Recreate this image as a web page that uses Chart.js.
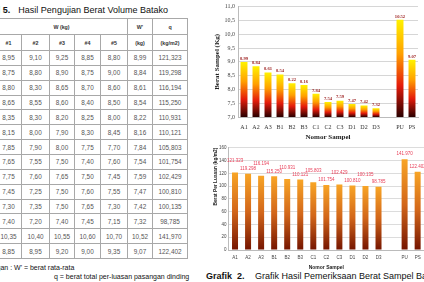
<!DOCTYPE html>
<html>
<head>
<meta charset="utf-8">
<script src="https://cdn.jsdelivr.net/npm/chart.js@4.4.1/dist/chart.umd.min.js"></script>
<style>
  html, body { margin: 0; padding: 0; background: #fff; }
  body { width: 424px; height: 282px; position: relative; overflow: hidden; font-family: "Liberation Sans", Arial, sans-serif; color: #111; }
  #judul { position: absolute; left: -22.5px; top: 5px; font-size: 9px; white-space: nowrap; }
  #judul span { margin-left: 8px; }
  #tabel { position: absolute; left: -33px; top: 18px; border-collapse: collapse; table-layout: fixed; width: 220px; font-size: 6.4px; color: #555; }
  #tabel th, #tabel td { border: 1px solid #a8a8a8; padding: 0; text-align: center; white-space: nowrap; overflow: hidden; }
  #tabel thead tr { height: 16px; }
  #tabel thead th { font-size: 5.3px; font-weight: bold; color: #333; }
  #tabel tbody tr { height: 14.86px; }
  .ket { position: absolute; font-size: 7px; white-space: nowrap; }
  .kotak { position: absolute; }
  #caption1 { position: absolute; left: 206px; top: 271px; font-size: 9px; font-weight: bold; white-space: nowrap; }
  #caption2 { position: absolute; left: 255px; top: 271px; font-size: 9px; white-space: nowrap; }
</style>
</head>
<body>
<div id="judul"><b>Tabel 5.</b><span>Hasil Pengujian Berat Volume Batako</span></div>
<table id="tabel">
  <colgroup>
    <col style="width:28px"><col style="width:26px"><col style="width:28px"><col style="width:25px">
    <col style="width:26px"><col style="width:27px"><col style="width:25px"><col style="width:35px">
  </colgroup>
  <thead>
    <tr><th rowspan="2">Sampel</th><th colspan="5">W (kg)</th><th>W'</th><th>q</th></tr>
    <tr><th>#1</th><th>#2</th><th>#3</th><th>#4</th><th>#5</th><th>(kg)</th><th>(kg/m2)</th></tr>
  </thead>
  <tbody id="isi"></tbody>
</table>
<div class="ket" style="left:-28px; top:264px;">Keterangan : W' = berat rata-rata</div>
<div class="ket" style="left:54px; top:273px;">q = berat total per-luasan pasangan dinding</div>

<div class="kotak" style="left:212px; top:0; width:212px; height:142px;"><canvas id="grafik1"></canvas></div>
<div class="kotak" style="left:212px; top:143px; width:214px; height:128px;"><canvas id="grafik2"></canvas></div>
<div id="caption1">Grafik&nbsp; 2.</div>
<div id="caption2">Grafik Hasil Pemeriksaan Berat Sampel Batako</div>

<script>
// data dari tabel
const sampel = ['A1', 'A2', 'A3', 'B1', 'B2', 'B3', 'C1', 'C2', 'C3', 'D1', 'D2', 'D3', 'PU', 'PS'];
const w1 = [8.95, 8.75, 8.80, 8.65, 8.35, 8.15, 7.85, 7.65, 7.75, 7.45, 7.30, 7.40, 10.35, 8.85];
const w2 = [9.10, 8.80, 8.30, 8.55, 8.30, 8.00, 7.90, 7.55, 7.60, 7.25, 7.35, 7.20, 10.40, 8.95];
const w3 = [9.25, 8.90, 8.65, 8.60, 8.20, 7.90, 8.00, 7.50, 7.65, 7.50, 7.50, 7.40, 10.55, 9.20];
const w4 = [8.85, 8.75, 8.70, 8.40, 8.25, 8.30, 7.75, 7.40, 7.50, 7.60, 7.65, 7.45, 10.60, 9.00];
const w5 = [8.80, 9.00, 8.60, 8.50, 8.00, 8.45, 7.70, 7.60, 7.45, 7.55, 7.30, 7.15, 10.70, 9.35];
const beratRata = [8.99, 8.84, 8.61, 8.54, 8.22, 8.16, 7.84, 7.54, 7.59, 7.47, 7.42, 7.32, 10.52, 9.07];
const beratLuasan = [121.323, 119.298, 116.194, 115.250, 110.931, 110.121, 105.803, 101.754, 102.429, 100.810, 100.135, 98.785, 141.970, 122.402];
const tickBerat = [7.0, 7.5, 8.0, 8.5, 9.0, 9.5, 10.0, 10.5, 11.0];
const tickLuasan = [0, 20, 40, 60, 80, 100, 120, 140, 160];

// format angka pakai koma
const koma = (v, d) => v.toFixed(d).replace('.', ',');

// isi tabel
const isi = document.getElementById('isi');
sampel.forEach((s, i) => {
  const sel = [s, koma(w1[i], 2), koma(w2[i], 2), koma(w3[i], 2), koma(w4[i], 2), koma(w5[i], 2),
    koma(beratRata[i], 2), koma(beratLuasan[i], 3)];
  const tr = document.createElement('tr');
  sel.forEach(t => {
    const td = document.createElement('td');
    td.textContent = t;
    tr.appendChild(td);
  });
  isi.appendChild(tr);
});

// kategori grafik, ada celah kosong sebelum PU
const withGap = arr => [...arr.slice(0, 12), null, ...arr.slice(12)];
const labelGrafik = withGap(sampel).map(s => s === null ? '' : s);

// gradasi per batang
function gradien(stops) {
  return function (ctx) {
    const chart = ctx.chart;
    const area = chart.chartArea;
    if (!area || ctx.raw == null) return stops[0][1];
    const top = chart.scales.y.getPixelForValue(ctx.raw);
    const g = chart.ctx.createLinearGradient(0, top, 0, area.bottom);
    stops.forEach(s => g.addColorStop(s[0], s[1]));
    return g;
  };
}

// label nilai di atas batang
function labelNilai(cfg) {
  return {
    id: 'labelNilai',
    afterDatasetsDraw(chart) {
      const c = chart.ctx;
      const data = chart.data.datasets[0].data;
      c.save();
      c.font = cfg.font;
      c.fillStyle = cfg.warna;
      c.textAlign = 'center';
      c.textBaseline = 'middle';
      chart.getDatasetMeta(0).data.forEach((bar, i) => {
        if (data[i] == null) return;
        c.fillText(cfg.teks(data[i]), bar.x, bar.y - cfg.jarak(i));
      });
      c.restore();
    }
  };
}

const serif = 'Liberation Serif';
const sans = 'Liberation Sans';

new Chart(document.getElementById('grafik1'), {
  type: 'bar',
  data: {
    labels: labelGrafik,
    datasets: [{
      data: withGap(beratRata),
      backgroundColor: gradien([[0, '#fff200'], [0.35, '#ffa000'], [0.68, '#e41b0b'], [1, '#2a0000']]),
      barPercentage: 0.58,
      categoryPercentage: 1
    }]
  },
  options: {
    animation: false,
    responsive: true,
    maintainAspectRatio: false,
    layout: { padding: { top: 4, right: 6, left: 0, bottom: 0 } },
    plugins: { legend: { display: false }, tooltip: { enabled: false } },
    scales: {
      x: {
        grid: { display: false, drawTicks: false },
        border: { color: '#bbb' },
        ticks: { font: { family: serif, size: 6 }, color: '#333', padding: 6.4, autoSkip: false, maxRotation: 0 },
        title: { display: true, text: 'Nomor Sampel', font: { family: serif, size: 7, weight: 'bold' }, color: '#222', padding: { top: 2, bottom: 1 } },
        afterFit(s) { s.height = 25; }
      },
      y: {
        min: tickBerat[0],
        max: tickBerat[tickBerat.length - 1],
        afterBuildTicks(s) { s.ticks = tickBerat.map(v => ({ value: v })); },
        ticks: { callback: v => koma(v, 1), font: { family: serif, size: 6 }, color: '#444', padding: 3 },
        grid: { color: '#d6d6d6', drawTicks: false },
        border: { color: '#bbb' },
        title: { display: true, text: 'Berat Sampel (Kg)', font: { family: serif, size: 7, weight: 'bold' }, color: '#222', padding: { top: 1, bottom: 0 } },
        afterFit(s) { s.width = 26; }
      }
    }
  },
  plugins: [labelNilai({
    font: 'bold 4.6px "Liberation Serif"',
    warna: '#9a1b1b',
    teks: v => v.toFixed(2),
    jarak: () => 3.5
  })]
});

new Chart(document.getElementById('grafik2'), {
  type: 'bar',
  data: {
    labels: labelGrafik,
    datasets: [{
      data: withGap(beratLuasan),
      backgroundColor: gradien([[0, '#f8a526'], [0.5, '#d2661a'], [1, '#741400']]),
      barPercentage: 0.46,
      categoryPercentage: 1
    }]
  },
  options: {
    animation: false,
    responsive: true,
    maintainAspectRatio: false,
    layout: { padding: { top: 4, right: 1.4, left: 0, bottom: 0 } },
    plugins: { legend: { display: false }, tooltip: { enabled: false } },
    scales: {
      x: {
        grid: { display: false, drawTicks: false },
        border: { color: '#bbb' },
        ticks: { font: { family: sans, size: 4.5 }, color: '#444', padding: 5.3, autoSkip: false, maxRotation: 0 },
        title: { display: true, text: 'Nomor Sampel', font: { family: sans, size: 5, weight: 'bold' }, color: '#222', padding: { top: 2, bottom: 0.7 } },
        afterFit(s) { s.height = 21; }
      },
      y: {
        min: tickLuasan[0],
        max: tickLuasan[tickLuasan.length - 1],
        afterBuildTicks(s) { s.ticks = tickLuasan.map(v => ({ value: v })); },
        ticks: { font: { family: sans, size: 4.5 }, color: '#444', padding: 2 },
        grid: { color: '#dcdcdc', drawTicks: false },
        border: { color: '#bbb' },
        title: { display: true, text: 'Berat Per Luasan (kg/m2)', align: 'end', font: { family: sans, size: 4.8, weight: 'bold' }, color: '#222', padding: { top: 0.5, bottom: 0 } },
        afterFit(s) { s.width = 16.5; }
      }
    }
  },
  plugins: [labelNilai({
    font: '4.5px "Liberation Sans"',
    warna: '#e8405a',
    teks: v => v.toFixed(3),
    jarak: i => (i < 12 && i % 2 === 0) ? 11.5 : 5
  })]
});
</script>
</body>
</html>
